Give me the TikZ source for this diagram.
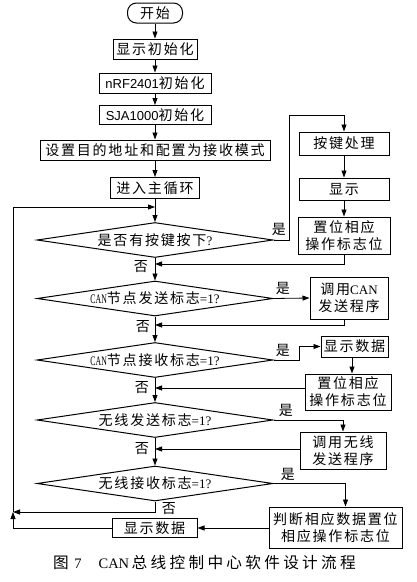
\documentclass[tikz,border=0pt]{standalone}
\usepackage{fontspec}
\usepackage{graphicx}
\setmainfont{Liberation Serif}
\newfontfamily\cjk[LetterSpace=12.5,Scale=1.08]{Noto Sans CJK SC}
\newfontfamily\cjkcap[LetterSpace=21,Scale=1.08]{Noto Sans CJK SC}
\newfontfamily\arialf{Liberation Sans}
\newcommand\Z[1]{{\cjk #1}}
\usetikzlibrary{arrows.meta,shapes.geometric}
\begin{document}
\begin{tikzpicture}[x=1pt,y=-1pt,
  every node/.style={font=\fontsize{13}{17}\selectfont},
  box/.style={draw,line width=1pt,inner sep=0pt,align=center},
  dia/.style={draw,shape=diamond,line width=1pt,inner sep=0pt,aspect=7,minimum width=236pt,minimum height=35pt},
  arr/.style={line width=0.8pt,-{Triangle[length=7pt,width=5pt]}},
  lab/.style={inner sep=0pt}]
\useasboundingbox (0,0) rectangle (417,582);
% main column
\node[box,rounded corners=9pt,minimum width=55pt,minimum height=20pt] (start) at (155,13) {\Z{开始}};
\node[box,minimum width=84pt,minimum height=20pt] (b1) at (155,49) {\Z{显示初始化}};
\node[box,minimum width=112pt,minimum height=20pt] (b2) at (155,83) {{\arialf nRF2401}\Z{初始化}};
\node[box,minimum width=112pt,minimum height=19pt] (b3) at (155,115) {{\arialf SJA1000}\Z{初始化}};
\node[box,minimum width=230pt,minimum height=20pt] (b4) at (155,150) {\Z{设置目的地址和配置为接收模式}};
\node[box,minimum width=89pt,minimum height=21pt] (b5) at (155,188) {\Z{进入主循环}};
\node[dia] (d1) at (155,240) {\Z{是否有按键按下}?};
\node[dia] (d2) at (155,298.5) {\scalebox{0.6}[1]{CAN}\Z{节点发送标志}=1?};
\node[dia] (d3) at (155,360) {\scalebox{0.6}[1]{CAN}\Z{节点接收标志}=1?};
\node[dia] (d4) at (155,420) {\Z{无线发送标志}=1?};
\node[dia] (d5) at (155,483.5) {\Z{无线接收标志}=1?};
\node[box,minimum width=85pt,minimum height=19pt] (e1) at (154.5,528) {\Z{显示数据}};
% right column
\node[box,minimum width=90pt,minimum height=23pt] (k1) at (344,143.5) {\Z{按键处理}};
\node[box,minimum width=90pt,minimum height=22pt] (k2) at (344,189) {\Z{显示}};
\node[box,minimum width=92pt,minimum height=37pt] (k3) at (344,235.5) {\Z{置位相应}\\\Z{操作标志位}};
\node[box,minimum width=78pt,minimum height=42pt] (c1) at (349,298) {\Z{调用}CAN\\\Z{发送程序}};
\node[box,minimum width=67pt,minimum height=21pt] (r1) at (354.5,346.5) {\Z{显示数据}};
\node[box,minimum width=86pt,minimum height=36pt] (r2) at (348,392) {\Z{置位相应}\\\Z{操作标志位}};
\node[box,minimum width=86pt,minimum height=37pt] (w1) at (343,450.5) {\Z{调用无线}\\\Z{发送程序}};
\node[box,minimum width=133pt,minimum height=41pt] (p1) at (335.5,527.5) {\Z{判断相应数据置位}\\\Z{相应操作标志位}};
% junctions
\coordinate (j0) at (155,207);
\coordinate (lp) at (13,512);
\coordinate (m1) at (155,264);
\coordinate (m2) at (155,325);
\coordinate (m3) at (155,388);
\coordinate (m4) at (155,449);
% main flow
\draw[arr] (start.south) -- (b1.north);
\draw[arr] (b1.south) -- (b2.north);
\draw[arr] (b2.south) -- (b3.north);
\draw[arr] (b3.south) -- (b4.north);
\draw[arr] (b4.south) -- (b5.north);
\draw[arr] (b5.south) -- (d1.north);
\draw[arr] (d1.south) -- (d2.north);
\draw[arr] (d2.south) -- (d3.north);
\draw[arr] (d3.south) -- (d4.north);
\draw[arr] (d4.south) -- (d5.north);
% branches
\draw[arr] (d1.east) -- ++(16,0) |- ([yshift=16pt]k1.north) -- (k1.north);
\draw[arr] (k1.south) -- (k2.north);
\draw[arr] (k2.south) -- (k3.north);
\draw[arr] (k3.south) |- (m1);
\draw[arr] (d2.east) -- (c1.west);
\draw[arr] ([xshift=-5pt]c1.south) |- (m2);
\draw[arr] (d3.east) -- ++(26,0) |- (r1.west);
\draw[arr] ([xshift=-2.5pt]r1.south) -- ([xshift=-2.5pt]r1.south |- r2.north);
\draw[arr] (r2.west |- m3) -- (m3);
\draw[arr] (d4.east) -| (w1.north);
\draw[arr] (w1.west |- m4) -- (m4);
\draw[arr] (d5.east) -| ([xshift=10pt]p1.north);
\draw[arr] (d5.south) |- (lp);
\draw[arr] (p1.west |- e1.east) -- (e1.east);
\draw[arr] (e1.west) -| (lp);
\draw[arr] (lp) |- (j0);
% labels
\node[lab] (y1) at (279,229) {\Z{是}};
\node[lab] (y2) at (283,288) {\Z{是}};
\node[lab] (y3) at (283,350) {\Z{是}};
\node[lab] (y4) at (286,410) {\Z{是}};
\node[lab] (y5) at (288,474) {\Z{是}};
\node[lab] (n1) at (141,267) {\Z{否}};
\node[lab] (n2) at (143,327) {\Z{否}};
\node[lab] (n3) at (142,388) {\Z{否}};
\node[lab] (n4) at (142,449) {\Z{否}};
\node[lab] (n5) at (169,509) {\Z{否}};
% caption
\node[inner sep=0pt,anchor=west,font=\fontsize{14.5}{16}\selectfont] (cap) at (53,563)
  {{\cjkcap 图}\hspace{5.5pt}7\hspace{17pt}CAN\hspace{2.5pt}{\cjkcap 总线控制中心软件设计流程}};
\end{tikzpicture}
\end{document}
